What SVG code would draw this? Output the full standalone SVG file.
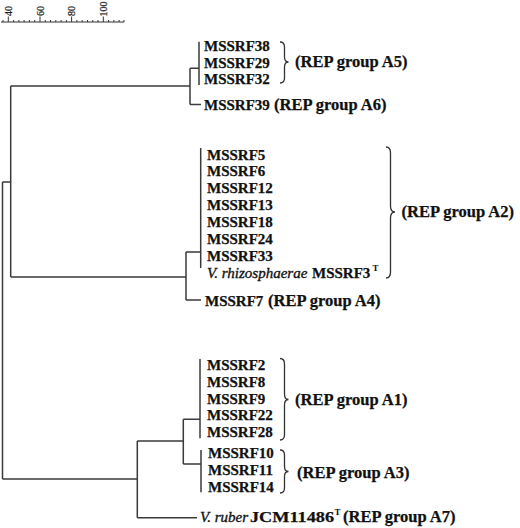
<svg xmlns="http://www.w3.org/2000/svg" width="520" height="528" viewBox="0 0 520 528">
<style>
text{font-family:"Liberation Serif","Times New Roman",serif;fill:#111}
.lf{font-size:15px;font-weight:bold;stroke:#111;stroke-width:0.25}
.gp{font-size:16.5px;font-weight:bold;stroke:#111;stroke-width:0.25}
.it{font-size:15px;font-style:italic;stroke:#111;stroke-width:0.35}
.sc{font-size:10px;stroke:#222;stroke-width:0.2}
.ln{fill:none;stroke:#3a3a3a;stroke-width:1.5}
.br{fill:none;stroke:#333;stroke-width:1.3}
.tk{stroke:#333;stroke-width:1}
</style>
<rect width="520" height="528" fill="#fff"/>
<g id="scale">
<line class="tk" x1="1" y1="22" x2="124" y2="22"/>
<path class="tk" d="M3 22v-2M8.3 22v-5.5M13.6 22v-2M18.9 22v-2M24.1 22v-2M29.4 22v-2M34.7 22v-2M40 22v-5.5M45.3 22v-2M50.5 22v-2M55.8 22v-2M61.1 22v-2M66.4 22v-2M71.6 22v-5.5M76.9 22v-2M82.2 22v-2M87.5 22v-2M92.8 22v-2M98 22v-2M103.3 22v-5.5M108.6 22v-2M113.9 22v-2M119.1 22v-2M124 22v-2"/>
<text class="sc" transform="translate(11.8,16) rotate(-90)">40</text>
<text class="sc" transform="translate(43.5,16) rotate(-90)">60</text>
<text class="sc" transform="translate(75.1,16) rotate(-90)">80</text>
<text class="sc" transform="translate(106.8,16.5) rotate(-90)">100</text>
</g>
<g id="connectors">
<path class="ln" d="M2.5 182V479M2.5 182H10.7M2.5 479H137.3"/>
<path class="ln" d="M10.7 86V277M10.7 86H190M10.7 277H186"/>
<path class="ln" d="M190 68.3V104.5M190 68.3H199M190 104.5H201"/>
<path class="ln" d="M199 41.7V85"/>
<path class="ln" d="M186 252V300M186 252H200.7M186 300H201"/>
<path class="ln" d="M200.7 148V268"/>
<path class="ln" d="M137.3 441V517.7M137.3 517.7H197M137.3 441H183.3"/>
<path class="ln" d="M183.3 419.3V464M183.3 419.3H200M183.3 464H201"/>
<path class="ln" d="M200 359V438.3"/>
<path class="ln" d="M201 450V492.3"/>
</g>
<g id="groupA5">
<text class="lf" x="204" y="51">MSSRF38</text>
<text class="lf" x="204" y="67.5">MSSRF29</text>
<text class="lf" x="204" y="84">MSSRF32</text>
<path class="br" d="M280 42Q284.5 42 284.5 47V57Q284.5 62 288.5 62Q284.5 62 284.5 67V78Q284.5 83 280 83"/>
<text class="gp" x="295" y="67">(REP group A5)</text>
</g>
<g id="groupA6">
<text class="lf" x="204" y="109.5">MSSRF39</text>
<text class="gp" x="274" y="109.5">(REP group A6)</text>
</g>
<g id="groupA2">
<text class="lf" x="207" y="159.5">MSSRF5</text>
<text class="lf" x="207" y="176.4">MSSRF6</text>
<text class="lf" x="207" y="193.3">MSSRF12</text>
<text class="lf" x="207" y="210.2">MSSRF13</text>
<text class="lf" x="207" y="227.1">MSSRF18</text>
<text class="lf" x="207" y="244">MSSRF24</text>
<text class="lf" x="207" y="260.9">MSSRF33</text>
<text class="it" x="207" y="277.8">V. rhizosphaerae</text>
<text class="lf" x="312" y="277.8">MSSRF3</text>
<text x="372.5" y="271" style="font-size:9px;font-weight:bold">T</text>
<path class="br" d="M386 147Q390.5 147 390.5 153V206Q390.5 212 395 212Q390.5 212 390.5 218V272Q390.5 278 386 278"/>
<text class="gp" x="401.5" y="217">(REP group A2)</text>
</g>
<g id="groupA4">
<text class="lf" x="205" y="305.5">MSSRF7</text>
<text class="gp" x="268" y="305.5">(REP group A4)</text>
</g>
<g id="groupA1">
<text class="lf" x="207" y="370">MSSRF2</text>
<text class="lf" x="207" y="386.8">MSSRF8</text>
<text class="lf" x="207" y="403.6">MSSRF9</text>
<text class="lf" x="207" y="420.4">MSSRF22</text>
<text class="lf" x="207" y="437.2">MSSRF28</text>
<path class="br" d="M280 358.5Q284.5 358.5 284.5 364V394Q284.5 399.5 288.5 399.5Q284.5 399.5 284.5 405V434.5Q284.5 440 280 440"/>
<text class="gp" x="295" y="405">(REP group A1)</text>
</g>
<g id="groupA3">
<text class="lf" x="208" y="458.3">MSSRF10</text>
<text class="lf" x="208" y="475">MSSRF11</text>
<text class="lf" x="208" y="492">MSSRF14</text>
<path class="br" d="M280 450Q284.5 450 284.5 455V466.5Q284.5 471.5 288.5 471.5Q284.5 471.5 284.5 476.5V488Q284.5 493 280 493"/>
<text class="gp" x="297" y="477.5">(REP group A3)</text>
</g>
<g id="groupA7">
<text class="it" x="200" y="522">V. ruber</text>
<text style="font-size:15.5px;font-weight:bold;stroke:#111;stroke-width:0.25" x="250" y="522" textLength="84" lengthAdjust="spacingAndGlyphs">JCM11486</text>
<text x="334.5" y="514.5" style="font-size:9px;font-weight:bold">T</text>
<text class="gp" x="343" y="522">(REP group A7)</text>
</g>
</svg>
